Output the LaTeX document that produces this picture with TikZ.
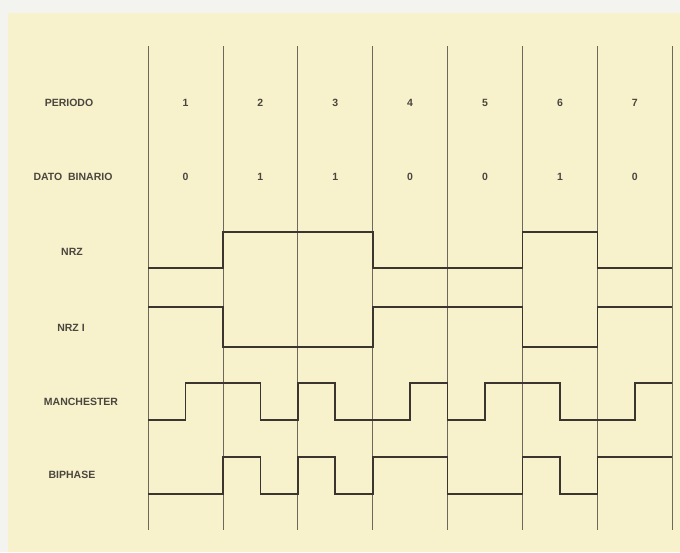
\documentclass[tikz,border=0pt]{standalone}
\usepackage{fontspec}
\setmainfont{Liberation Sans}
\usetikzlibrary{positioning}
\definecolor{paper}{HTML}{F7F2CC}
\definecolor{margin}{HTML}{F3F3F0}
\definecolor{ink}{HTML}{3A352E}
\definecolor{txt}{HTML}{4A463E}
\definecolor{rulecol}{HTML}{6E685C}
\tikzset{
  lbl/.style={font=\fontsize{10.5}{13}\selectfont\bfseries, text=txt, inner sep=0pt},
  wave/.style={draw=ink, line width=1.6pt, line join=miter},
  grid line/.style={draw=rulecol, line width=0.8pt},
}

\begin{document}
\begin{tikzpicture}[x=1pt,y=-1pt]
\useasboundingbox (0,0) rectangle (680,552);
\fill[margin] (0,0) rectangle (680,552);
\fill[paper] (8,13) rectangle (680,552);

% row labels
\node[lbl] (periodo) at (69,103) {PERIODO};
\node[lbl] (dato) at (73,177) {DATO\ \ BINARIO};
\node[lbl] (nrz) at (72,252) {NRZ};
\node[lbl] (nrzi) at (71,328) {NRZ I};
\node[lbl] (manch) at (81,402) {MANCHESTER};
\node[lbl] (biph) at (72,475) {BIPHASE};

% one unit = half a period
\begin{scope}[xshift=148pt, x=37.45pt]
\foreach \i in {0,...,7} {
  \coordinate (t\i) at (2*\i,46);
  \coordinate (b\i) at (2*\i,530);
  \draw[grid line] (t\i) -- (b\i);
}
\foreach \b [count=\i] in {0,1,1,0,0,1,0} {
  \node[lbl] (p\i) at (2*\i-1,103) {\i};
  \node[lbl] (d\i) at (2*\i-1,177) {\b};
}

% NRZ
\draw[wave] (0,268) -- (2,268) |- (6,232) |- (10,268) |- (12,232) |- (14,268);
% NRZ I
\draw[wave] (0,307) -- (2,307) |- (6,347) |- (10,307) |- (12,347) |- (14,307);
% Manchester
\draw[wave] (0,420) -- (1,420) |- (3,383) |- (4,420) |- (5,383) |- (7,420)
  |- (8,383) |- (9,420) |- (11,383) |- (13,420) |- (14,383);
% Biphase
\draw[wave] (0,494) -- (2,494) |- (3,457) |- (4,494) |- (5,457) |- (6,494)
  |- (8,457) |- (10,494) |- (11,457) |- (12,494) |- (14,457);
\end{scope}
\end{tikzpicture}
\end{document}
